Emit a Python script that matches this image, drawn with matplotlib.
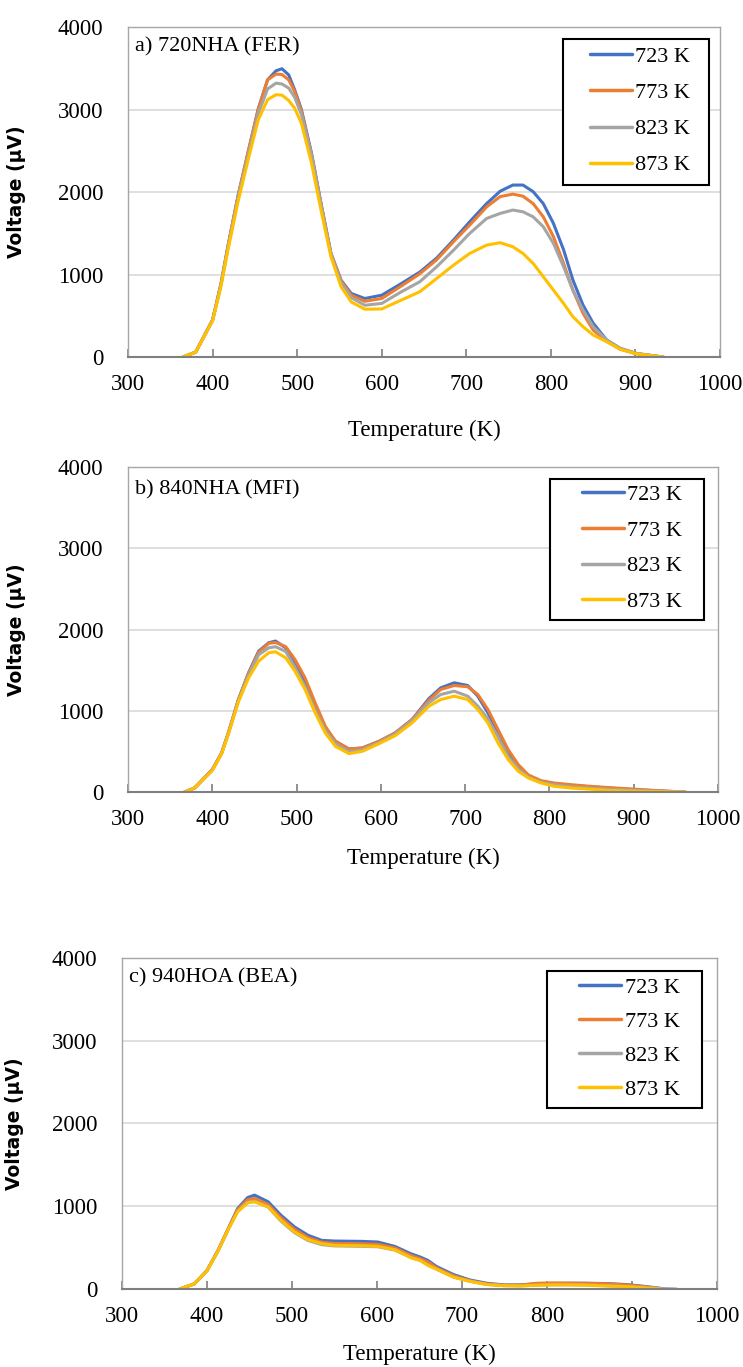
import numpy as np
import matplotlib
matplotlib.use("Agg")
import matplotlib.pyplot as plt
from matplotlib.patches import Rectangle

nan = np.nan

labels = ["723 K", "773 K", "823 K", "873 K"]
colors = ["#4472C4", "#ED7D31", "#A5A5A5", "#FFC000"]

# a) 720NHA (FER)
temp_a = [365, 380, 400, 410, 418, 430, 442, 454, 465, 475, 482, 490, 497, 505, 517, 529,
          540, 552, 564, 580, 600, 623, 645, 665, 685, 704, 724, 740, 755, 767, 779, 791,
          803, 815, 826, 838, 850, 866, 882, 901, 921, 933]
a_723 = [0, 60, 450, 890, 1335, 1950, 2480, 3010, 3360, 3470, 3495, 3420, 3240, 3000, 2470, 1820,
         1255, 930, 770, 710, 750, 890, 1030, 1200, 1420, 1640, 1860, 2010, 2085, 2085, 2005, 1860,
         1620, 1300, 935, 630, 410, 206, 105, 44, 16, 0]
a_773 = [0, 60, 450, 890, 1335, 1950, 2490, 3000, 3360, 3430, 3425, 3360, 3220, 2980, 2450, 1810,
         1250, 920, 750, 676, 710, 860, 1010, 1180, 1400, 1600, 1820, 1945, 1975, 1950, 1860, 1700,
         1460, 1135, 812, 530, 327, 190, 95, 40, 14, 0]
a_823 = [0, 60, 445, 880, 1320, 1930, 2450, 2950, 3250, 3320, 3310, 3260, 3150, 2940, 2440, 1800,
         1240, 900, 720, 628, 650, 790, 913, 1095, 1297, 1499, 1680, 1741, 1782, 1761, 1700, 1580,
         1378, 1095, 812, 570, 368, 206, 105, 44, 16, 0]
a_873 = [0, 60, 440, 860, 1290, 1880, 2390, 2875, 3120, 3180, 3175, 3110, 3017, 2835, 2350, 1740,
         1215, 850, 668, 580, 583, 690, 792, 953, 1115, 1256, 1357, 1386, 1337, 1256, 1135, 974,
         812, 650, 489, 368, 267, 186, 95, 40, 14, 0]

# b) 840NHA (MFI)
temp_b = [367, 379, 400, 411, 419, 431, 443, 455, 467, 475, 487, 498, 510, 522, 534, 546, 562,
          578, 598, 617, 637, 657, 671, 687, 703, 715, 727, 739, 751, 763, 775, 790, 806, 826,
          846, 870, 901, 933, 961]
b_723 = [0, 50, 275, 480, 727, 1138, 1467, 1734, 1837, 1858, 1775, 1590, 1344, 1056, 789, 625, 530,
         542, 625, 727, 892, 1150, 1282, 1344, 1311, 1180, 974, 727, 480, 316, 201, 131, 103, 82,
         66, 49, 29, 12, 0]
b_773 = [0, 50, 275, 480, 727, 1138, 1460, 1720, 1830, 1840, 1790, 1632, 1405, 1097, 810, 625, 530,
         542, 625, 727, 892, 1130, 1262, 1311, 1295, 1200, 1015, 768, 522, 337, 210, 140, 110, 90,
         72, 55, 35, 15, 0]
b_823 = [0, 50, 270, 475, 720, 1130, 1440, 1690, 1775, 1788, 1730, 1540, 1300, 1010, 760, 595, 500,
         520, 610, 715, 880, 1100, 1200, 1241, 1180, 1056, 900, 680, 440, 285, 185, 120, 90, 65,
         50, 35, 20, 8, 0]
b_873 = [0, 50, 265, 470, 710, 1110, 1405, 1611, 1714, 1726, 1652, 1488, 1262, 974, 727, 563, 473,
         501, 596, 694, 850, 1056, 1138, 1180, 1138, 1015, 850, 604, 400, 255, 173, 111, 70, 49,
         37, 20, 10, 5, 0]

# c) 940HOA (BEA)
temp_c = [368, 385, 400, 413, 425, 436, 448, 456, 472, 487, 503, 519, 535, 550, 582, 601, 621,
          640, 651, 660, 670, 690, 709, 729, 749, 768, 788, 808, 827, 847, 870, 894, 917, 933, 952]
c_723 = [0, 61, 223, 466, 729, 972, 1106, 1134, 1053, 891, 749, 648, 587, 579, 575, 567, 514,
         425, 385, 344, 271, 174, 109, 69, 49, 49, 61, 65, 69, 69, 65, 53, 28, 8, nan]
c_773 = [0, 61, 223, 466, 729, 960, 1080, 1094, 1020, 860, 720, 620, 565, 550, 545, 540, 495,
         405, 365, 325, 255, 160, 100, 62, 45, 45, 69, 73, 70, 68, 62, 48, 25, 5, nan]
c_823 = [0, 61, 220, 460, 720, 940, 1050, 1060, 990, 820, 680, 585, 535, 520, 515, 510, 470,
         380, 344, 290, 240, 145, 93, 55, 40, 38, 46, 50, 50, 48, 38, 30, 15, 6, 0]
c_873 = [0, 61, 220, 460, 720, 932, 1041, 1053, 992, 830, 689, 595, 547, 527, 522, 514, 474,
         377, 344, 284, 239, 142, 93, 53, 40, 36, 45, 49, 49, 45, 36, 28, 12, 0, nan]

panels = [
    ("a) 720NHA (FER)", temp_a, [a_723, a_773, a_823, a_873]),
    ("b) 840NHA (MFI)", temp_b, [b_723, b_773, b_823, b_873]),
    ("c) 940HOA (BEA)", temp_c, [c_723, c_773, c_823, c_873]),
]

serif = "Liberation Serif"
fig = plt.figure(figsize=(7.43, 13.67), dpi=100)

# axes rectangles and placement of the texts / legend boxes (axes fractions)
rects = [[0.1723, 0.7388, 0.7968, 0.2414],
         [0.1723, 0.4206, 0.7941, 0.2378],
         [0.1642, 0.0571, 0.8008, 0.2421]]
title_y = [0.939, 0.929, 0.94]
leg_anchor = [(0.780, 0.941), (0.769, 0.946), (0.768, 0.941)]
leg_spacing = [0.7, 0.68, 0.6]
leg_box = [(0.735, 0.521, 0.246, 0.443),
           (0.715, 0.529, 0.261, 0.434),
           (0.714, 0.547, 0.261, 0.414)]
ylab_x = [-0.172, -0.173, -0.165]
xlab_y = [-0.221, -0.203, -0.199]

for i, (title, temp, series) in enumerate(panels):
    ax = fig.add_axes(rects[i])
    for vals, lab, col in zip(series, labels, colors):
        ax.plot(temp, vals, color=col, lw=2.2, label=lab, solid_capstyle="round")
    ax.set_xlim(300, 1000)
    ax.set_ylim(0, 4000)
    ax.set_xticks(range(300, 1001, 100))
    ax.set_yticks(range(0, 4001, 1000))
    ax.yaxis.grid(True, color="#D9D9D9", lw=1.2)
    ax.set_axisbelow(True)
    for s in ["top", "right", "left"]:
        ax.spines[s].set_color("#A6A6A6")
        ax.spines[s].set_linewidth(1.0)
    ax.spines["bottom"].set_color("#7F7F7F")
    ax.spines["bottom"].set_linewidth(1.5)
    ax.tick_params(axis="x", direction="in", length=6, width=1.2, color="#7F7F7F",
                   pad=12, labelsize=16.5)
    ax.tick_params(axis="y", length=0, pad=18, labelsize=16.5)
    for t in ax.get_xticklabels() + ax.get_yticklabels():
        t.set_fontfamily(serif)
    ax.text(0.012, title_y[i], title, transform=ax.transAxes, fontsize=16,
            family=serif, va="center", ha="left")
    ax.set_ylabel("Voltage (μV)", fontsize=13.5, fontweight="bold", family="DejaVu Sans")
    ax.yaxis.set_label_coords(ylab_x[i], 0.5)
    ax.set_xlabel("Temperature (K)", fontsize=16.5, family=serif, va="center")
    ax.xaxis.set_label_coords(0.5, xlab_y[i])

    leg = ax.legend(loc="upper left", bbox_to_anchor=leg_anchor[i], frameon=False,
                    prop={"family": serif, "size": 16}, handlelength=1.9,
                    handletextpad=0.15, labelspacing=leg_spacing[i], borderpad=0,
                    borderaxespad=0)
    for h in leg.get_lines():
        h.set_linewidth(2.5)
    bx, by, bw, bh = leg_box[i]
    ax.add_patch(Rectangle((bx, by), bw, bh, transform=ax.transAxes, fill=True,
                           facecolor="white", edgecolor="black", lw=1.5, zorder=4))
    leg.set_zorder(5)

fig.savefig("out.png", dpi=100)
